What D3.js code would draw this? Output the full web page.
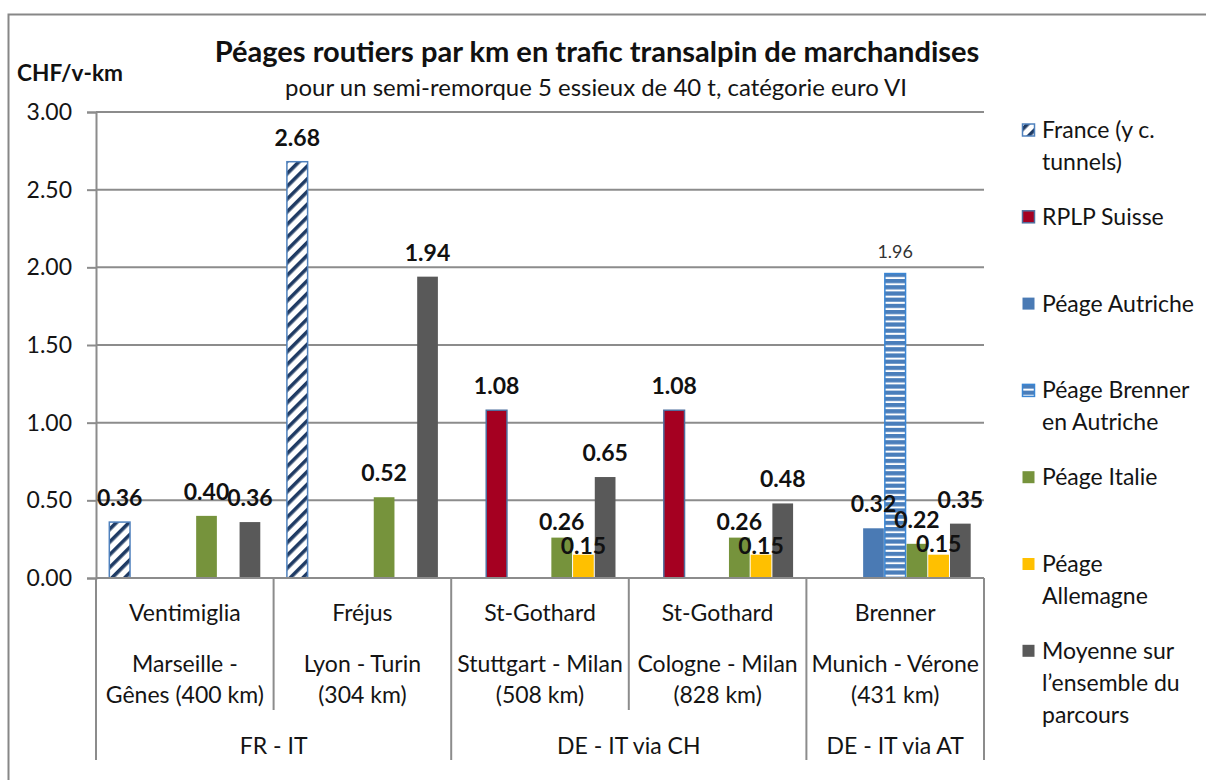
<!DOCTYPE html>
<html>
<head>
<meta charset="utf-8">
<script src="https://cdn.jsdelivr.net/npm/d3@7"></script>
<style>
  body { margin: 0; background: #fff; }
  svg { display: block; font-family: Lato, "Open Sans", sans-serif; }
</style>
</head>
<body>
<div id="chart"></div>
<script>
// categories (level 1 = pass, level 2 = route, level 3 = corridor)
const passes = ["Ventimiglia", "Fréjus", "St-Gothard", "St-Gothard", "Brenner"];
const routes = [
    ["Marseille -", "Gênes (400 km)"],
    ["Lyon - Turin", "(304 km)"],
    ["Stuttgart - Milan", "(508 km)"],
    ["Cologne - Milan", "(828 km)"],
    ["Munich - Vérone", "(431 km)"],
];
const corridors = ["FR - IT", "DE - IT via CH", "DE - IT via AT"];
const corridorOf = [0, 0, 1, 1, 2];

// series values (CHF per vehicle-km), null = no bar
const seriesNames = [
    "France (y c. tunnels)",
    "RPLP Suisse",
    "Péage Autriche",
    "Péage Brenner en Autriche",
    "Péage Italie",
    "Péage Allemagne",
    "Moyenne sur l’ensemble du parcours",
];
const france    = [0.36, 2.68, null, null, null];
const rplp      = [null, null, 1.08, 1.08, null];
const autriche  = [null, null, null, null, 0.32];
const brenner   = [null, null, null, null, 1.96];
const italie    = [0.40, 0.52, 0.26, 0.26, 0.22];
const allemagne = [null, null, 0.15, 0.15, 0.15];
const moyenne   = [0.36, 1.94, 0.65, 0.48, 0.35];
const seriesValues = [france, rplp, autriche, brenner, italie, allemagne, moyenne];

const yTicks = [0, 0.5, 1, 1.5, 2, 2.5, 3];

// legend lines (wrapped as in the original)
const legendLines = [
    ["France (y c.", "tunnels)"],
    ["RPLP Suisse"],
    ["Péage Autriche"],
    ["Péage Brenner", "en Autriche"],
    ["Péage Italie"],
    ["Péage", "Allemagne"],
    ["Moyenne sur", "l’ensemble du", "parcours"],
];

const width = 1206;
const height = 780;
const marginTop = 112;
const marginLeft = 96;
const plotRight = 984;
const plotBottom = 578;

const colors = ["url(#hatchFrance)", "#a50021", "#4a7ab4", "url(#stripeBrenner)", "#76933c", "#ffc000", "#595959"];
const strokes = ["#4f81bd", "#4f6f9f", "none", "#3a86d4", "none", "none", "none"];
const gridColor = "#8c8c8c";
const textColor = "#141414";

// manual label lift (px above the bar top); Excel labels were nudged by hand
const defaultLift = 16;
const liftOverride = { "2|4": 8, "3|4": 8, "2|5": 1, "3|5": 1, "4|5": 3 };
const plainLabels = { "4|3": true };

const svg = d3.select("#chart")
    .append("svg")
    .attr("width", width)
    .attr("height", height);

// patterns
const defs = svg.append("defs");
const hatch = defs.append("pattern")
    .attr("id", "hatchFrance")
    .attr("patternUnits", "userSpaceOnUse")
    .attr("width", 9)
    .attr("height", 9)
    .attr("patternTransform", "rotate(45)");
hatch.append("rect").attr("width", 9).attr("height", 9).attr("fill", "#fff");
hatch.append("rect").attr("width", 3.6).attr("height", 9).attr("fill", "#1f3b64");

const stripes = defs.append("pattern")
    .attr("id", "stripeBrenner")
    .attr("patternUnits", "userSpaceOnUse")
    .attr("width", 6)
    .attr("height", 6.2);
stripes.append("rect").attr("width", 6).attr("height", 6.2).attr("fill", "#4a7ebb");
stripes.append("rect").attr("y", 4.2).attr("width", 6).attr("height", 2).attr("fill", "#fff");

// outer frame
svg.append("rect")
    .attr("x", 8.5)
    .attr("y", 14.5)
    .attr("width", 1210)
    .attr("height", 790)
    .attr("fill", "none")
    .attr("stroke", "#878787")
    .attr("stroke-width", 2);

// scales
const x0 = d3.scaleBand()
    .domain(d3.range(passes.length))
    .range([marginLeft, plotRight])
    .paddingInner(0)
    .paddingOuter(0);

const x1 = d3.scaleBand()
    .domain(d3.range(seriesNames.length))
    .range([0, x0.bandwidth()])
    .paddingInner(0)
    .paddingOuter(0.59);

const y = d3.scaleLinear()
    .domain([0, 3])
    .range([plotBottom, marginTop]);

// gridlines
svg.append("g")
    .selectAll("line")
    .data(yTicks.filter((d) => d > 0))
    .enter()
    .append("line")
    .attr("x1", marginLeft)
    .attr("x2", plotRight)
    .attr("y1", (d) => y(d))
    .attr("y2", (d) => y(d))
    .attr("stroke", gridColor)
    .attr("stroke-width", 2);

// y-axis
const yAxis = svg.append("g")
    .attr("transform", `translate(${marginLeft},0)`)
    .call(d3.axisLeft(y).tickValues(yTicks).tickFormat(d3.format(".2f")).tickSize(9).tickPadding(15));
yAxis.select(".domain").attr("stroke", gridColor).attr("stroke-width", 2);
yAxis.selectAll(".tick line").attr("stroke", gridColor).attr("stroke-width", 2);
yAxis.selectAll("text")
    .style("font-size", "23px")
    .style("font-family", "Lato, sans-serif")
    .attr("fill", textColor);

// bars
const flat = [];
passes.forEach((p, i) => {
    seriesValues.forEach((vals, s) => {
        if (vals[i] != null) flat.push({ cat: i, series: s, value: vals[i] });
    });
});

svg.append("g")
    .selectAll("rect")
    .data(flat)
    .enter()
    .append("rect")
    .attr("x", (d) => x0(d.cat) + x1(d.series) + 0.5)
    .attr("y", (d) => y(d.value))
    .attr("width", x1.bandwidth() - 1)
    .attr("height", (d) => plotBottom - y(d.value))
    .attr("fill", (d) => colors[d.series])
    .attr("stroke", (d) => strokes[d.series])
    .attr("stroke-width", 1.5);

// x-axis line
svg.append("line")
    .attr("x1", marginLeft)
    .attr("x2", plotRight)
    .attr("y1", plotBottom)
    .attr("y2", plotBottom)
    .attr("stroke", gridColor)
    .attr("stroke-width", 2);

// data labels
svg.append("g")
    .selectAll("text")
    .data(flat)
    .enter()
    .append("text")
    .attr("x", (d) => x0(d.cat) + x1(d.series) + x1.bandwidth() / 2)
    .attr("y", (d) => {
        const key = `${d.cat}|${d.series}`;
        const lift = key in liftOverride ? liftOverride[key] : defaultLift;
        return y(d.value) - lift;
    })
    .attr("text-anchor", "middle")
    .style("font-size", (d) => plainLabels[`${d.cat}|${d.series}`] ? "18px" : "23px")
    .style("font-weight", (d) => plainLabels[`${d.cat}|${d.series}`] ? "normal" : "bold")
    .attr("fill", (d) => plainLabels[`${d.cat}|${d.series}`] ? "#333" : "#111")
    .text((d) => d3.format(".2f")(d.value));

// multi-level category axis
const xAxis = svg.append("g");

// separators between passes (short) and corridors (long)
d3.range(passes.length + 1).forEach((i) => {
    const xPos = i < passes.length ? x0(i) : plotRight;
    const isCorridorEdge = i === 0 || i === passes.length || corridorOf[i] !== corridorOf[i - 1];
    xAxis.append("line")
        .attr("x1", xPos)
        .attr("x2", xPos)
        .attr("y1", plotBottom)
        .attr("y2", isCorridorEdge ? 760 : 710)
        .attr("stroke", gridColor)
        .attr("stroke-width", 2);
});

const axisFont = "23px";

xAxis.selectAll(".pass")
    .data(passes)
    .enter()
    .append("text")
    .attr("class", "pass")
    .attr("x", (d, i) => x0(i) + x0.bandwidth() / 2)
    .attr("y", 621)
    .attr("text-anchor", "middle")
    .style("font-size", axisFont)
    .attr("fill", textColor)
    .text((d) => d);

routes.forEach((lines, i) => {
    lines.forEach((t, j) => {
        xAxis.append("text")
            .attr("x", x0(i) + x0.bandwidth() / 2)
            .attr("y", 672 + j * 31)
            .attr("text-anchor", "middle")
            .style("font-size", axisFont)
            .attr("fill", textColor)
            .text(t);
    });
});

corridors.forEach((c, k) => {
    const members = d3.range(passes.length).filter((i) => corridorOf[i] === k);
    const left = x0(members[0]);
    const right = x0(members[members.length - 1]) + x0.bandwidth();
    xAxis.append("text")
        .attr("x", (left + right) / 2)
        .attr("y", 754)
        .attr("text-anchor", "middle")
        .style("font-size", axisFont)
        .attr("fill", textColor)
        .text(c);
});

// fit a text element to a target width by scaling font size
function fitWidth(sel, target) {
    const fs = parseFloat(sel.style("font-size"));
    const w = sel.node().getComputedTextLength();
    sel.style("font-size", (fs * target / w).toFixed(2) + "px");
}

// titles
const title = svg.append("text")
    .attr("x", 597)
    .attr("y", 62)
    .attr("text-anchor", "middle")
    .style("font-size", "25px")
    .style("font-weight", "bold")
    .attr("fill", "#111")
    .text("Péages routiers par km en trafic transalpin  de marchandises");
fitWidth(title, 765);

const subtitle = svg.append("text")
    .attr("x", 596)
    .attr("y", 96)
    .attr("text-anchor", "middle")
    .style("font-size", "19px")
    .attr("fill", textColor)
    .text("pour un semi-remorque 5 essieux de 40 t, catégorie euro VI");
fitWidth(subtitle, 622);

const unit = svg.append("text")
    .attr("x", 17)
    .attr("y", 81)
    .style("font-size", "20px")
    .style("font-weight", "bold")
    .attr("fill", "#111")
    .text("CHF/v-km");
fitWidth(unit, 106);

// legend
const legend = svg.append("g")
    .attr("transform", "translate(1022,0)");

legendLines.forEach((lines, s) => {
    const top = 130 + s * 86.8;
    legend.append("rect")
        .attr("x", 0.5)
        .attr("y", top - 6)
        .attr("width", 12)
        .attr("height", 12)
        .attr("fill", colors[s])
        .attr("stroke", strokes[s] === "none" ? "none" : strokes[s])
        .attr("stroke-width", 1.5);
    lines.forEach((t, j) => {
        legend.append("text")
            .attr("x", 20)
            .attr("y", top + 8 + j * 32)
            .style("font-size", "23px")
            .attr("fill", textColor)
            .text(t);
    });
});
</script>
</body>
</html>
